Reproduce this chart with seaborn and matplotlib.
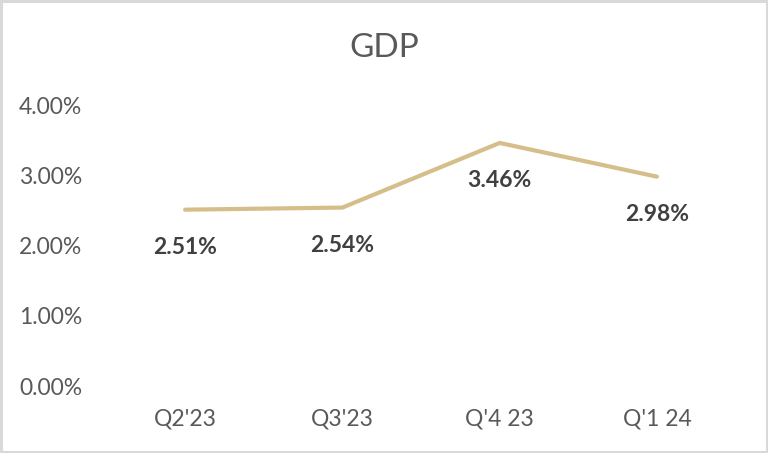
import matplotlib
matplotlib.use("Agg")
import matplotlib.pyplot as plt
import matplotlib.patches as mpatches
from matplotlib.ticker import FuncFormatter, MultipleLocator
import seaborn as sns
import pandas as pd

quarters = ["Q2'23", "Q3'23", "Q'4 23", "Q'1 24"]
gdp = [2.51, 2.54, 3.46, 2.98]
title = "GDP"

sns.set_style("white")
plt.rcParams['font.family'] = ['Lato', 'DejaVu Sans']

df = pd.DataFrame({"quarter": quarters, "gdp": gdp})

fig = plt.figure(figsize=(7.68, 4.53), dpi=100)
ax = fig.add_axes([0.1387, 0.1479, 0.819, 0.6203])

sns.lineplot(data=df, x="quarter", y="gdp", ax=ax, color="#D5BE8A",
             linewidth=3.0, solid_capstyle="round", solid_joinstyle="miter", sort=False)

ax.set_ylim(0, 4)
ax.set_xlim(-0.5, len(quarters) - 0.5)
ax.yaxis.set_major_locator(MultipleLocator(1))
ax.yaxis.set_major_formatter(FuncFormatter(lambda v, p: f"{v:.2f}%"))
ax.set_xlabel("")
ax.set_ylabel("")
for s in ax.spines.values():
    s.set_visible(False)
ax.grid(False)
ax.tick_params(axis="y", length=0, pad=17.5, labelsize=16.5, labelcolor="#595959")
ax.tick_params(axis="x", length=0, pad=16, labelsize=16.5, labelcolor="#595959")

for i, v in enumerate(gdp):
    ax.annotate(f"{v:.2f}%", xy=(i, v), xytext=(0, -27), textcoords="offset points",
                ha="center", va="center", fontsize=16.5, fontweight="bold", color="#404040")

fig.text(0.5, 0.894, title, ha="center", va="center", fontsize=24, color="#595959")

fig.patches.append(mpatches.Rectangle((0.0015, 0.0025), 0.997, 0.995, transform=fig.transFigure,
                                      fill=False, edgecolor="#D9D9D9", linewidth=2.2))

fig.savefig("out.png", dpi=100)
